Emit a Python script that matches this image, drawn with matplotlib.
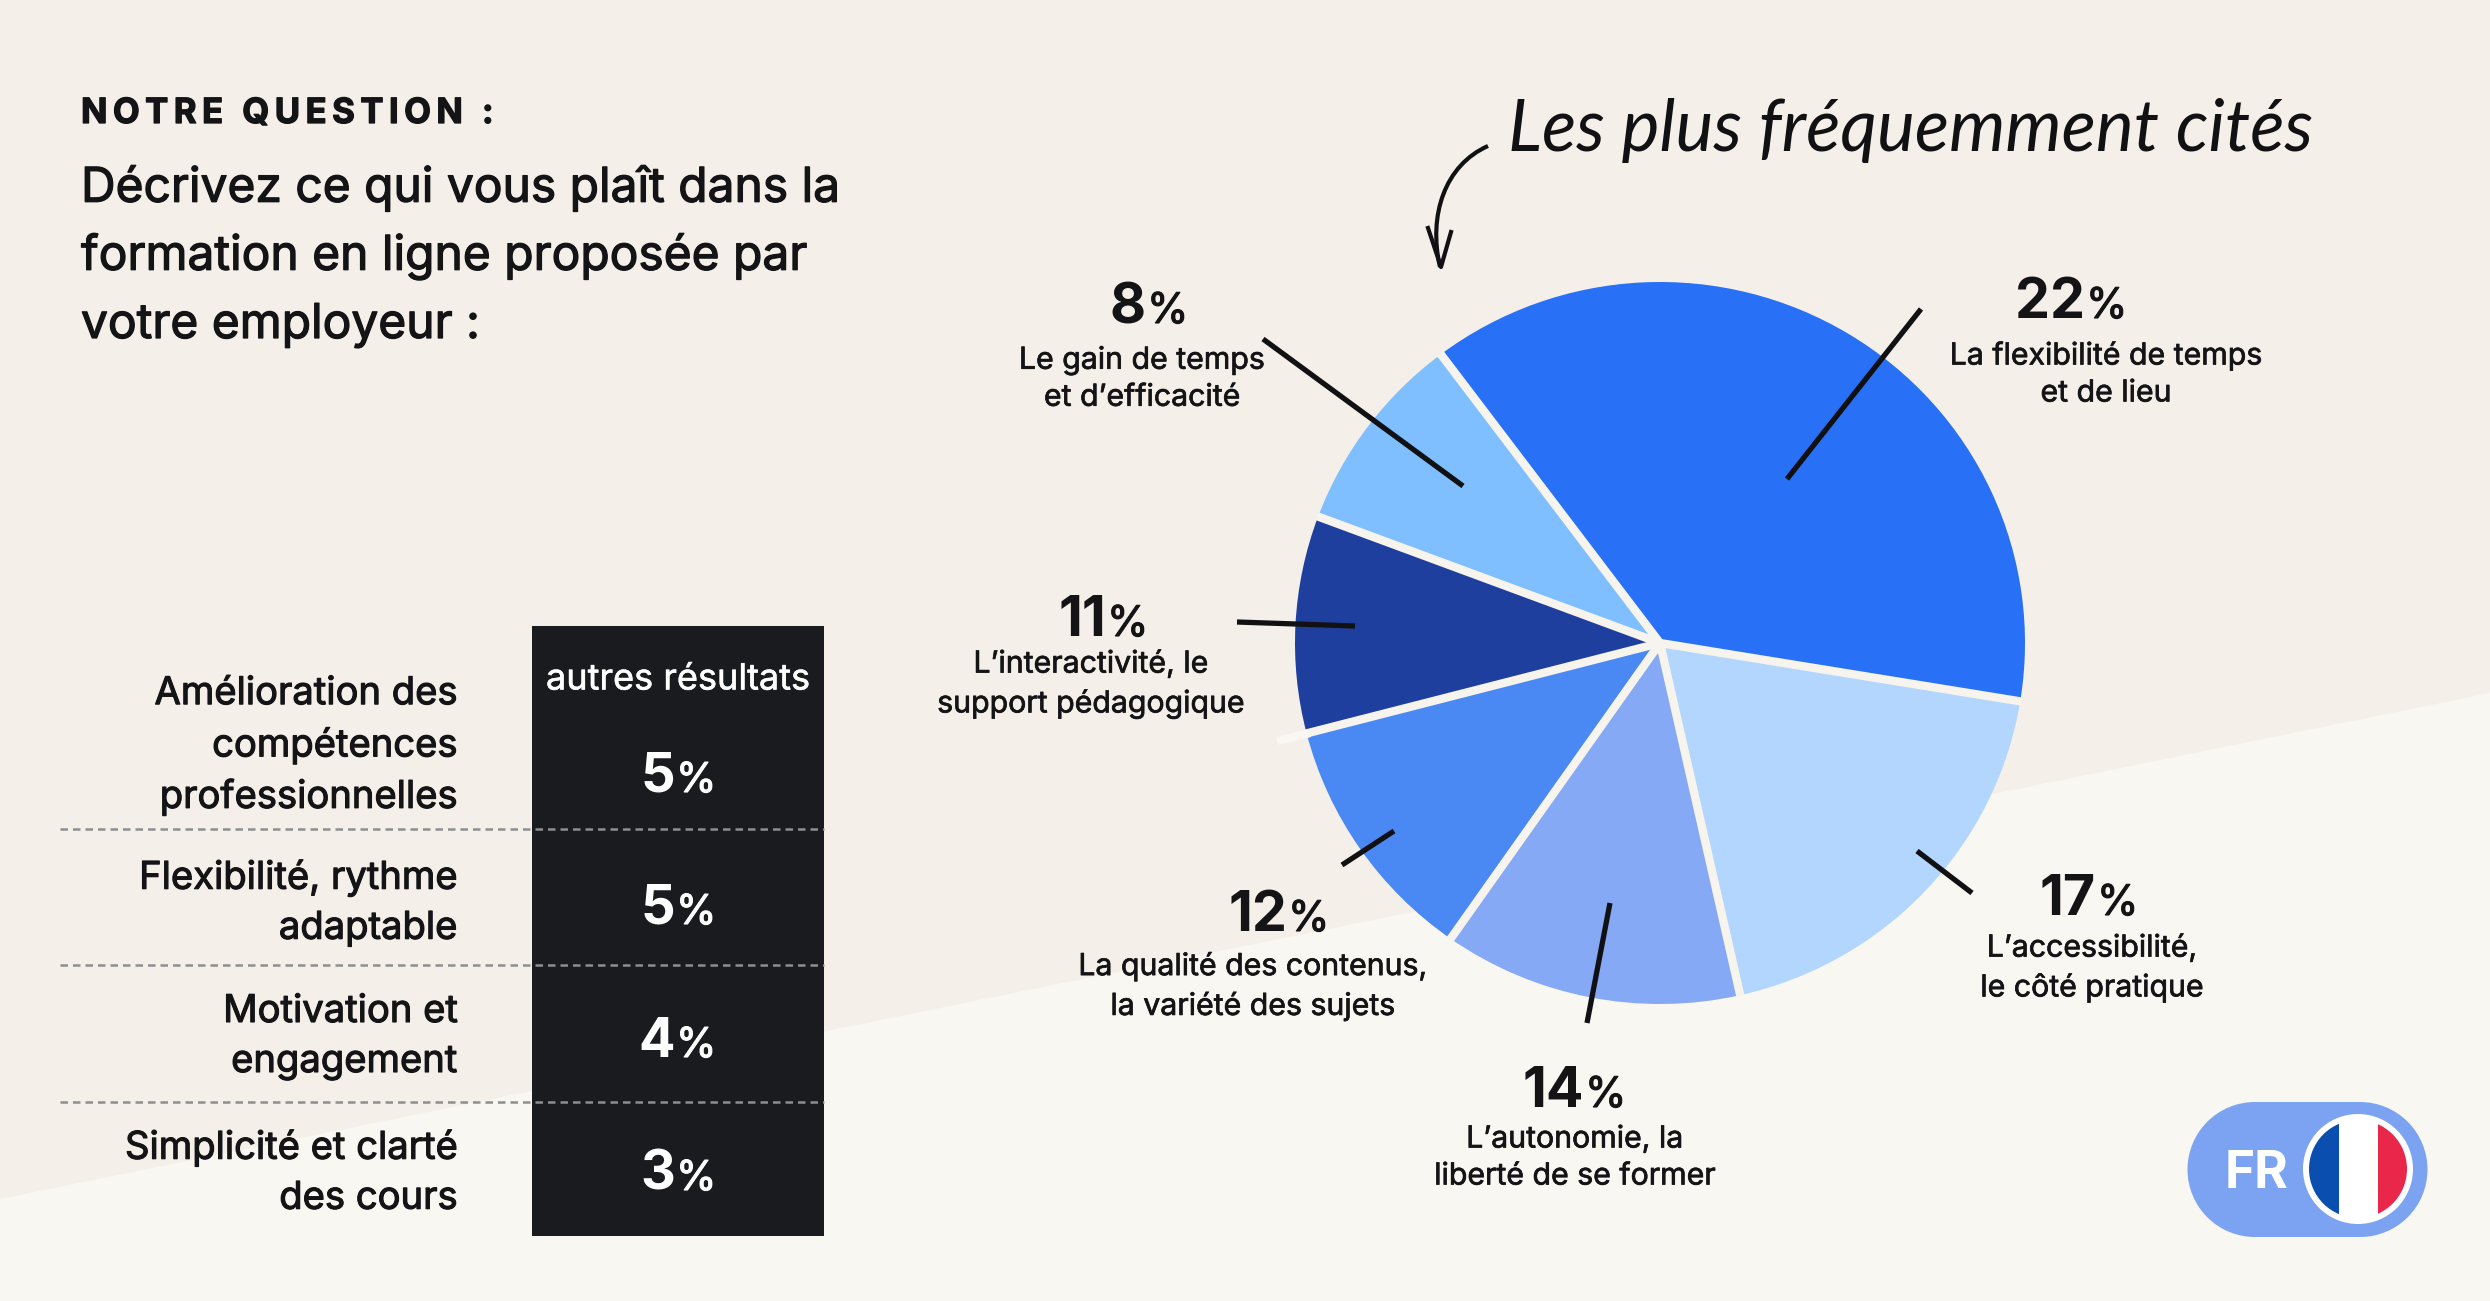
import numpy as np
import matplotlib
matplotlib.use("Agg")
import matplotlib.pyplot as plt
import matplotlib.patheffects as pe
from matplotlib.patches import Rectangle, Circle, Polygon, PathPatch
from matplotlib.path import Path

W, H = 2490, 1301
FONT = "Inter"
INK = "#141417"
PALE = "#f9f7f2"
GAP = "#f7f4ee"

# data
question = ["Décrivez ce qui vous plaît dans la",
            "formation en ligne proposée par",
            "votre employeur :"]
slice_labels = ["La flexibilité de temps\net de lieu",
                "L’accessibilité,\nle côté pratique",
                "L’autonomie, la\nliberté de se former",
                "La qualité des contenus,\nla variété des sujets",
                "L’interactivité, le\nsupport pédagogique",
                "Le gain de temps\net d’efficacité"]
slice_pct = [22, 17, 14, 12, 11, 8]
# the drawn slices are not proportional to the printed percentages, sweep read off the picture
slice_sweep = [136.2, 68.0, 47.7, 40.5, 35.0, 32.6]
slice_colors = ["#2870f5", "#b3d6ff", "#85a9f5", "#4a88f3", "#1f3f9e", "#80bfff"]
other_labels = ["Amélioration des\ncompétences\nprofessionnelles",
                "Flexibilité, rythme\nadaptable",
                "Motivation et\nengagement",
                "Simplicité et clarté\ndes cours"]
other_pct = [5, 5, 4, 3]

fig = plt.figure(figsize=(W / 100, H / 100), dpi=100, facecolor="#f4f0e9")


def pixel_axes(z):
    a = fig.add_axes([0, 0, 1, 1], zorder=z)
    a.set_xlim(0, W)
    a.set_ylim(H, 0)
    a.axis("off")
    a.patch.set_alpha(0)
    return a


def heavier(width, color=INK):
    # Inter only comes in regular here, thicken it a bit to get the medium look
    return [pe.withStroke(linewidth=width, foreground=color)]


bg = pixel_axes(0)
bg.add_patch(Polygon([(0, 1199), (W, 693), (W, H), (0, H)], fc=PALE, ec="none"))

# pie, very slightly squashed in the reference
start = 126.9
cx, cy, Rx, Ry = 1660, 643, 365, 361
pie_ax = fig.add_axes([(cx - Rx) / W, 1 - (cy + Ry) / H, 2 * Rx / W, 2 * Ry / H], zorder=1)
pie_ax.pie(slice_sweep, colors=slice_colors, startangle=start, counterclock=False, radius=1)
pie_ax.set_aspect("auto")
pie_ax.set_xlim(-1, 1)
pie_ax.set_ylim(-1, 1)

ax = pixel_axes(2)
# gaps between the slices
for a in start - np.cumsum([0] + slice_sweep[:-1]):
    dx, dy = np.cos(np.radians(a)), -np.sin(np.radians(a))
    ax.plot([cx, cx + (Rx + 1) * dx], [cy, cy + (Ry + 1) * dy], color=GAP, lw=6, solid_capstyle="butt")
# little stub of the slice gap sticking out of the pie
ax.plot([1277, 1310], [741, 733], color=PALE, lw=6, solid_capstyle="butt")

# leader lines
leaders = [((1921, 309), (1787, 479)), ((1917, 851), (1972, 893)), ((1610, 903), (1587, 1023)),
           ((1394, 831), (1342, 865)), ((1237, 622), (1355, 626)), ((1463, 486), (1263, 339))]
for p, q in leaders:
    ax.plot([p[0], q[0]], [p[1], q[1]], color="#111114", lw=3.8, solid_capstyle="butt")


def pct_text(x, y, v, size, color=INK):
    ax.text(x, y, str(v), ha="right", va="baseline", fontsize=size, fontweight="bold",
            family=FONT, color=color)
    ax.text(x + 1, y, "%", ha="left", va="baseline", fontsize=size * 0.76,
            family=FONT, color=color, path_effects=heavier(0.8, color))


# slice labels
pct_pos = [(2085, 318), (2096, 915), (1584, 1107), (1287, 931), (1106, 636), (1146, 323)]
label_pos = [(2106, 374), (2092, 968), (1575, 1158), (1253, 986), (1091, 684), (1142, 379)]
for v, lab, pp, lp in zip(slice_pct, slice_labels, pct_pos, label_pos):
    pct_text(pp[0], pp[1], v, 40)
    ax.text(lp[0], lp[1], lab, ha="center", va="center", fontsize=21.8, family=FONT, color=INK,
            linespacing=1.41, path_effects=heavier(0.5))

# question block
ax.text(81, 114, "\u2009".join("NOTRE QUESTION :"), ha="left", va="center", fontsize=25,
        fontweight="bold", family=[FONT, "DejaVu Sans"], color=INK, path_effects=heavier(0.9))
for line, y in zip(question, [188, 256, 325]):
    ax.text(81, y, line, ha="left", va="center", fontsize=34.5, family=FONT, color=INK,
            path_effects=heavier(0.9))

# other results table
ax.add_patch(Rectangle((532, 626), 292, 610, fc="#1a1b1f", ec="none"))
ax.text(678, 680, "autres résultats", ha="center", va="center", fontsize=26, color="white",
        family=FONT, path_effects=heavier(0.4, "white"))
label_y = [746, 903, 1037, 1173]
base_y = [792, 924, 1057, 1190]
for lab, v, ly, by in zip(other_labels, other_pct, label_y, base_y):
    ax.text(458, ly, lab, ha="right", va="center", fontsize=27.5, family=FONT,
            color=INK, linespacing=1.5, path_effects=heavier(0.8))
    pct_text(675, by, v, 39, "white")
for y in [829, 965, 1102]:
    ax.plot([60, 824], [y, y], color="#8e8e90", lw=1.8, dashes=(3, 2))

# handwritten note and arrow
ax.text(1508, 151, "Les plus fréquemment cités", ha="left", va="baseline", fontsize=51.5,
        style="italic", family="Lato", color="#111114")
ax.add_patch(PathPatch(Path([(1488, 146), (1445, 165), (1428, 215), (1440, 267)],
                            [Path.MOVETO, Path.CURVE4, Path.CURVE4, Path.CURVE4]),
                       fc="none", ec="#111114", lw=3))
ax.plot([1428, 1441, 1451], [228, 267, 232], color="#111114", lw=3)

# language badge
ax.add_patch(Rectangle((2255, 1102), 105, 135, fc="#7ba3f2", ec="none"))
ax.add_patch(Circle((2255, 1169.5), 67.5, fc="#7ba3f2", ec="none"))
ax.add_patch(Circle((2360, 1169.5), 67.5, fc="#7ba3f2", ec="none"))
ax.add_patch(Circle((2358, 1169), 55, fc="white", ec="none"))
flag = Circle((2358, 1169), 49, transform=ax.transData)
for x0, x1, col in [(2300, 2339, "#0a4fb0"), (2378, 2420, "#e8274b")]:
    r = Rectangle((x0, 1110), x1 - x0, 120, fc=col, ec="none")
    ax.add_patch(r)
    r.set_clip_path(flag)
ax.text(2257, 1175, "FR", ha="center", va="center", fontsize=37, fontweight="bold", color="white", family=FONT)

fig.savefig("out.png", dpi=100)
